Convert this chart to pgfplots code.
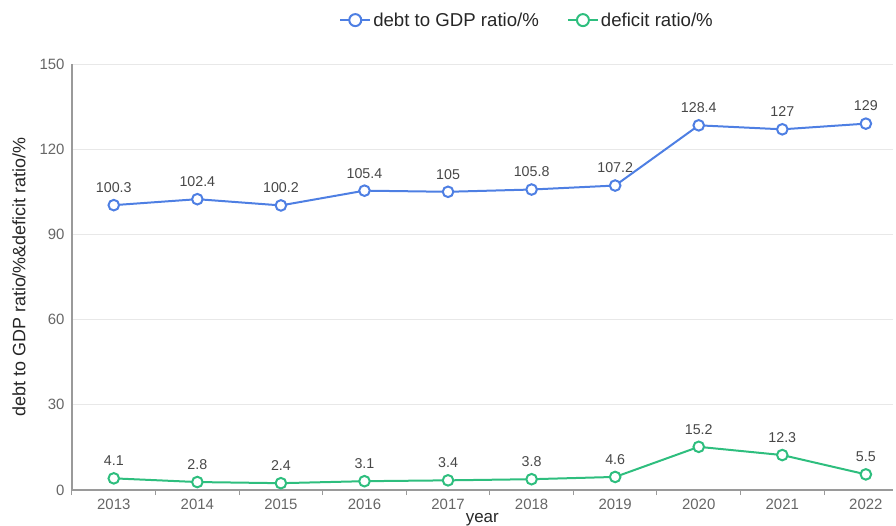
\documentclass[border=0pt]{standalone}
\usepackage{pgfplots}
\pgfplotsset{compat=1.18}
\usepackage{fontspec}
\setmainfont{Liberation Sans}

\definecolor{debtblue}{HTML}{4E7FE3}
\definecolor{defgreen}{HTML}{2EBE7E}
\definecolor{tickgray}{HTML}{666666}
\definecolor{axisgray}{HTML}{9A9A9A}
\definecolor{gridgray}{HTML}{E8E8E8}

\begin{document}
\begin{tikzpicture}
  \useasboundingbox (-72bp,-36bp) rectangle (824bp,490bp);
  \begin{axis}[
    at={(0,0)}, anchor=south west,
    scale only axis,
    width=820.6bp, height=426bp,
    xmin=-0.5, xmax=9.32,
    ymin=0, ymax=150,
    ytick={0,30,...,150},
    xtick={0,...,9},
    xticklabels={2013,2014,2015,2016,2017,2018,2019,2020,2021,2022},
    minor xtick={-0.5,0.5,...,8.5},
    major tick length=0pt,
    minor tick length=5bp,
    tick align=outside,
    tick style={axisgray, line width=1bp},
    axis x line*=bottom,
    axis y line*=left,
    axis line style={axisgray, line width=1.2bp, -},
    ymajorgrids,
    grid style={gridgray, line width=0.8bp},
    /pgf/number format/assume math mode=true,
    ticklabel style={font=\fontsize{15}{18}\selectfont, text=tickgray},
    xticklabel style={yshift=-6bp},
    yticklabel style={xshift=-4bp},
    xlabel={year},
    xlabel style={at={(axis description cs:0.5,0)}, anchor=base, yshift=-32bp,
      font=\fontsize{17}{20}\selectfont, text=black!85},
    ylabel={debt to GDP ratio/\%\&deficit ratio/\%},
    ylabel style={at={(axis description cs:-0.0645,0.5)}, anchor=center,
      font=\fontsize{18}{21}\selectfont, text=black!85},
    clip=false,
    legend columns=2,
    legend style={at={(axis description cs:0.5545,1.103)}, anchor=center,
      draw=none, fill=none, font=\fontsize{18.7}{21}\selectfont, text=black!85,
      nodes={inner sep=2bp},
      /tikz/every even column/.append style={column sep=26bp}},
    legend image code/.code={
      \draw[#1, mark repeat=2, mark phase=2, mark size=6bp]
        plot coordinates {(0bp,0bp) (15bp,0bp) (30bp,0bp)};
    },
    nodes near coords,
    point meta=explicit symbolic,
    every node near coord/.append style={anchor=south, inner sep=0pt, yshift=11.5bp,
      font=\fontsize{14.3}{16}\selectfont, text=black!72},
  ]
    \addplot[debtblue, line width=2bp, mark=*, mark size=5.3bp,
      mark options={fill=white, draw=debtblue, line width=2bp}]
      coordinates {
        (0,100.3) [100.3]
        (1,102.4) [102.4]
        (2,100.2) [100.2]
        (3,105.4) [105.4]
        (4,105)   [105]
        (5,105.8) [105.8]
        (6,107.2) [107.2]
        (7,128.4) [128.4]
        (8,127)   [127]
        (9,129)   [129]
      };
    \addlegendentry{debt to GDP ratio/\%}

    \addplot[defgreen, line width=2bp, mark=*, mark size=5.3bp,
      mark options={fill=white, draw=defgreen, line width=2bp}]
      coordinates {
        (0,4.1)  [4.1]
        (1,2.8)  [2.8]
        (2,2.4)  [2.4]
        (3,3.1)  [3.1]
        (4,3.4)  [3.4]
        (5,3.8)  [3.8]
        (6,4.6)  [4.6]
        (7,15.2) [15.2]
        (8,12.3) [12.3]
        (9,5.5)  [5.5]
      };
    \addlegendentry{deficit ratio/\%}
  \end{axis}
\end{tikzpicture}
\end{document}
